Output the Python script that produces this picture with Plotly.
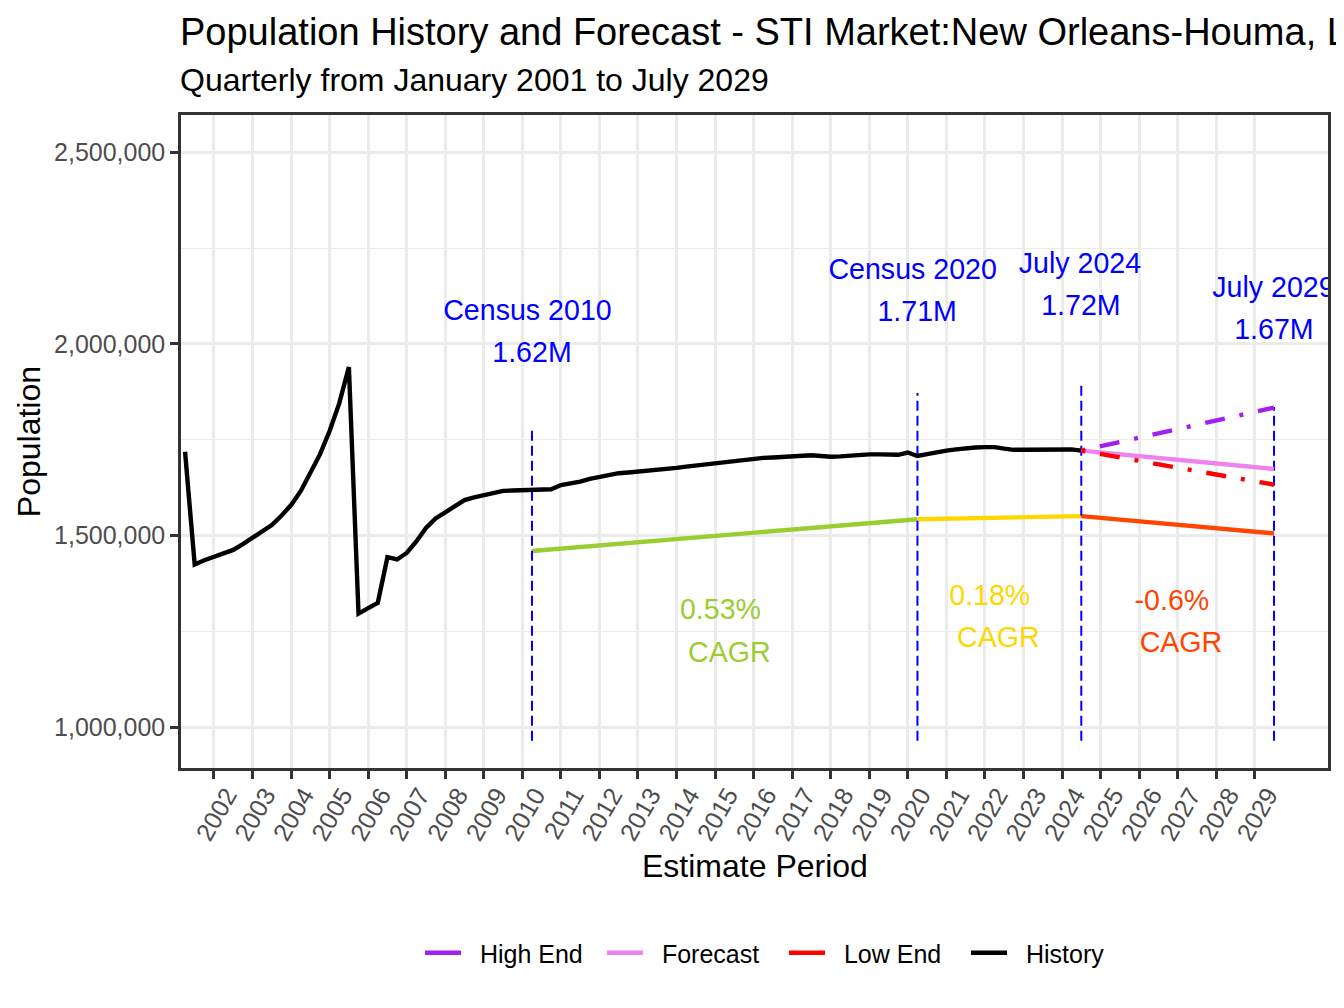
import pandas as pd
import plotly.graph_objects as go

# ---- data ----
history_start, history_end = "2001-04-01", "2024-07-01"
history_pop = [
    1719000, 1425000, 1436000,
    1444000, 1453000, 1463000, 1478000,
    1495000, 1509000, 1528000, 1552000,
    1580000, 1616000, 1665000, 1712000,
    1773000, 1845000, 1940000, 1297000,
    1311000, 1325000, 1444000, 1438000,
    1455000, 1485000, 1520000, 1545000,
    1561000, 1578000, 1593000, 1600000,
    1605000, 1612000, 1617000, 1618000,
    1619000, 1620000, 1620000, 1621000,
    1632000, 1636000, 1641000, 1648000,
    1653000, 1659000, 1663000, 1665000,
    1667000, 1669000, 1671000, 1674000,
    1677000, 1680000, 1683000, 1686000,
    1689000, 1693000, 1696000, 1699000,
    1702000, 1703000, 1704000, 1705000,
    1706000, 1708000, 1710000, 1708000,
    1706000, 1707000, 1709000, 1711000,
    1712000, 1712000, 1711000, 1711000,
    1717000, 1708000, 1713000, 1718000,
    1722000, 1725000, 1728000, 1730000,
    1731000, 1731000, 1727000, 1724000,
    1724000, 1724000, 1724000, 1724000,
    1725000, 1725000, 1722000,
]

forecast_years = [2024.5, 2029.5]
forecast_pop = [1722000, 1674000]
high_end_pop = [1722000, 1834000]
low_end_pop = [1722000, 1633000]

# CAGR guide lines (drawn at 90% of the population)
cagr_segments = [
    ([2010.25, 2020.25], [1460000, 1543000], "yellowgreen"),
    ([2020.25, 2024.5], [1543000, 1551000], "gold"),
    ([2024.5, 2029.5], [1551000, 1506000], "orangered"),
]

# marker lines at census / estimate dates
marker_years = [2010.25, 2020.25, 2024.5, 2029.5]
marker_tops = [1783000, 1872000, 1898000, 1836000]
marker_bottom = 965000

marker_labels = ["Census 2010", "Census 2020", "July 2024", "July 2029"]
marker_label_x = [2010.133, 2020.125, 2024.465, 2029.484]
marker_label_y = [2080800, 2187700, 2203400, 2140800]
marker_values = ["1.62M", "1.71M", "1.72M", "1.67M"]
marker_value_x = [2010.25, 2020.242, 2024.49, 2029.497]
marker_value_y = [1971300, 2078200, 2093800, 2031300]

cagr_labels = ["0.53%", "0.18%", "-0.6%"]
cagr_colors = ["yellowgreen", "gold", "orangered"]
cagr_label_x = [2015.14, 2022.125, 2026.85]
cagr_label_y = [1301800, 1338000, 1323700]
cagr_word_x = [2015.37, 2022.35, 2027.085]
cagr_word_y = [1188100, 1228000, 1214200]

legend_names = ["High End", "Forecast", "Low End", "History"]
legend_colors = ["#A020F0", "violet", "red", "black"]

tick_years = list(range(2002, 2030))
y_ticks = [1000000, 1500000, 2000000, 2500000]

FONT = "Liberation Sans, Arial, sans-serif"
DOTDASH = "4px,15px,20px,15px"

dates = pd.date_range(history_start, history_end, freq="QS")
history_years = [d.year + (d.month - 1) / 12 for d in dates]

fig = go.Figure()

for xs, ys, col in cagr_segments:
    fig.add_trace(go.Scatter(x=xs, y=ys, mode="lines", line=dict(color=col, width=4.4),
                             showlegend=False, hoverinfo="skip"))

for yr, top in zip(marker_years, marker_tops):
    fig.add_trace(go.Scatter(x=[yr, yr], y=[marker_bottom, top], mode="lines",
                             line=dict(color="blue", width=2, dash="10px,5px"),
                             showlegend=False, hoverinfo="skip"))

fig.add_trace(go.Scatter(x=history_years, y=history_pop, mode="lines", name="History",
                         line=dict(color="black", width=4.4), showlegend=False))
fig.add_trace(go.Scatter(x=forecast_years, y=forecast_pop, mode="lines", name="Forecast",
                         line=dict(color="violet", width=4.4), showlegend=False))
fig.add_trace(go.Scatter(x=forecast_years, y=high_end_pop, mode="lines", name="High End",
                         line=dict(color="#A020F0", width=4.4, dash=DOTDASH),
                         showlegend=False))
fig.add_trace(go.Scatter(x=forecast_years, y=low_end_pop, mode="lines", name="Low End",
                         line=dict(color="red", width=4.4, dash=DOTDASH),
                         showlegend=False))

# legend keys are plain solid lines, as in the original
for i, (nm, col) in enumerate(zip(legend_names, legend_colors)):
    fig.add_trace(go.Scatter(x=[None], y=[None], mode="lines", name="\u00a0\u00a0" + nm,
                             line=dict(color=col, width=4.4), legendrank=i + 1))

# text labels, clipped to the panel like ggplot
fig.add_trace(go.Scatter(x=marker_label_x + marker_value_x, y=marker_label_y + marker_value_y,
                         mode="text", text=marker_labels + marker_values,
                         textfont=dict(family=FONT, size=28.6, color="blue"),
                         textposition="middle center", cliponaxis=True,
                         showlegend=False, hoverinfo="skip"))
fig.add_trace(go.Scatter(x=cagr_label_x + cagr_word_x, y=cagr_label_y + cagr_word_y,
                         mode="text", text=cagr_labels + ["CAGR"] * 3,
                         textfont=dict(family=FONT, size=28.6, color=cagr_colors * 2),
                         textposition="middle center", cliponaxis=True,
                         showlegend=False, hoverinfo="skip"))

axis_common = dict(showline=True, mirror=True, linecolor="#333333", linewidth=2.5,
                   ticks="outside", ticklen=8, tickwidth=2.5, tickcolor="#333333",
                   showgrid=True, gridcolor="#EBEBEB", gridwidth=2.5, zeroline=False,
                   tickfont=dict(family=FONT, size=25, color="#4D4D4D"))

fig.update_xaxes(range=[2001.145, 2030.9], tickvals=tick_years,
                 ticktext=[str(y) for y in tick_years], tickangle=-60,
                 ticklabelshift=13, ticklabelstandoff=-8, **axis_common)
fig.update_yaxes(range=[894200, 2597200], tickvals=y_ticks, tickformat=",",
                 minor=dict(dtick=250000, tick0=0, showgrid=True, gridcolor="#EBEBEB",
                            gridwidth=1.3, ticks=""),
                 **axis_common)

# page body has an 8px margin, so the figure is 8px smaller than the window
fig.update_layout(
    width=1336, height=1000,
    margin=dict(l=173, r=16, t=107, b=240),
    plot_bgcolor="white", paper_bgcolor="white",
    font=dict(family=FONT, color="black"),
    showlegend=True,
    legend=dict(orientation="h", x=0.2084, xanchor="left", y=-0.2834, yanchor="middle",
                font=dict(family=FONT, size=25, color="black"),
                itemwidth=36, entrywidth=131, entrywidthmode="pixels",
                traceorder="normal"),
    annotations=[
        dict(text="Population History and Forecast - STI Market:New Orleans-Houma, LA",
             xref="paper", yref="paper", x=-0.0028, y=1.127, xanchor="left", yanchor="middle",
             showarrow=False, font=dict(size=38, color="black")),
        dict(text="Quarterly from January 2001 to July 2029",
             xref="paper", yref="paper", x=-0.0028, y=1.0536, xanchor="left", yanchor="middle",
             showarrow=False, font=dict(size=32, color="black")),
        dict(text="Estimate Period", xref="paper", yref="paper", x=0.5, y=-0.150,
             xanchor="center", yanchor="middle", showarrow=False,
             font=dict(size=32, color="black")),
        dict(text="Population", xref="paper", yref="paper", x=-0.1328, y=0.5,
             xanchor="center", yanchor="middle", textangle=-90, showarrow=False,
             font=dict(size=32, color="black")),
    ],
)

fig.write_html("out.html")
